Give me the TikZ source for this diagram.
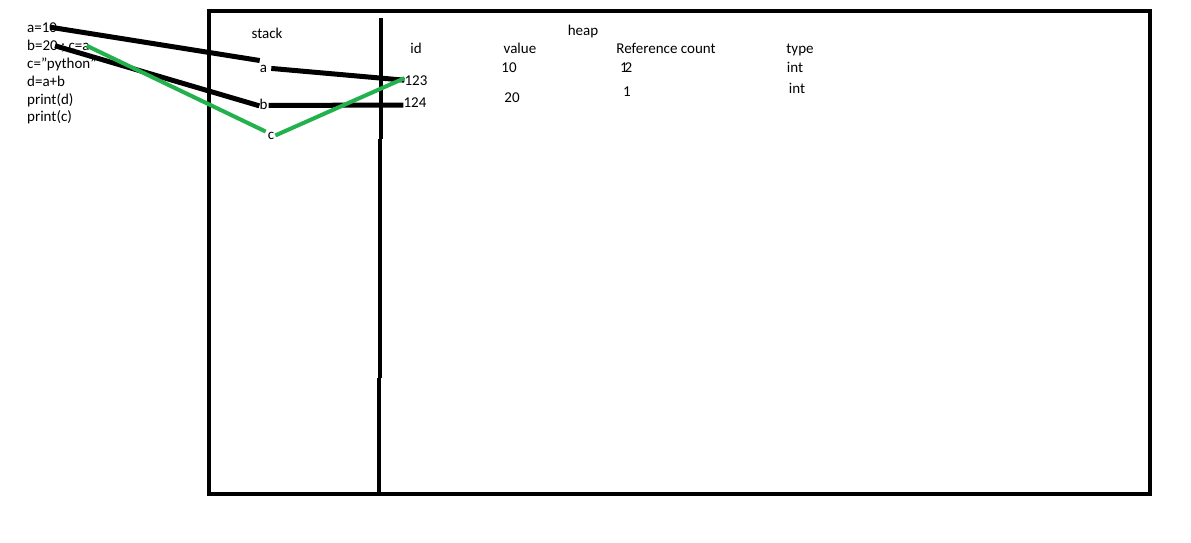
\documentclass[tikz,border=0pt]{standalone}
\usepackage{fontspec}
\setmainfont{Carlito}
\definecolor{paintgreen}{HTML}{22B14C}
\begin{document}
\begin{tikzpicture}[x=1pt,y=-1pt,
  every node/.style={inner sep=0pt, font=\fontsize{15}{18}\selectfont},
  lbl/.style={anchor=base},
  code/.style={anchor=base west},
  ref/.style={line width=5pt, black},
  gref/.style={line width=4pt, paintgreen},
  frame/.style={line width=4.5pt, black}]
\useasboundingbox (0,0) rectangle (1191,542);

% Code
\node[code] (ca) at (27,32) {a=10};
\node[code] (cb) at (27,50) {b=20 ; c=a};
\node[code] (cc) at (27,68) {c="python"};
\node[code] (cd) at (27,86) {d=a+b};
\node[code] (cpd) at (27,104) {print(d)};
\node[code] (cpc) at (27,121) {print(c)};

% Memory frame
\draw[frame] (209,11) rectangle (1150,494);
\draw[frame] (381,18) -- (381,139);
\draw[frame] (380,139) -- (380,378);
\draw[frame] (379,378) -- (379,496);

% Headings
\node[lbl] (stack) at (267,38) {stack};
\node[lbl] (heap) at (583,35) {heap};
\node[lbl] (hid) at (416,53) {id};
\node[lbl] (hval) at (520,53) {value};
\node[lbl] (hrc) at (666,53) {Reference count};
\node[lbl] (htype) at (800,53) {type};

% Stack
\node[lbl] (sa) at (263.5,72) {a};
\node[lbl] (sb) at (263.5,109) {b};
\node[lbl] (sc) at (271,139) {c};

% Heap
\node[lbl] (id123) at (416,85) {123};
\node[lbl] (id124) at (415,107) {124};
\node[lbl] (v10) at (509,72) {10};
\node[lbl] (v20) at (512,102) {20};
\node[lbl] (rc1) at (624,72) {1};
\node[lbl] (rc2) at (628.5,72) {2};
\node[lbl] (rc3) at (627,96) {1};
\node[lbl] (t1) at (795,72) {int};
\node[lbl] (t2) at (797,93) {int};

% References
\draw[ref] ([xshift=-7pt]ca.east) -- ([yshift=4pt]sa.north west);
\draw[ref] ([xshift=28pt]cb.west) -- ([yshift=-2pt]sb.west);
\draw[ref] ([xshift=4pt]sa.east) -- (id123.west);
\draw[ref] ([xshift=1pt,yshift=-1.5pt]sb.east) -- ([yshift=-3pt]id124.west);
\draw[gref] ([xshift=-3pt]cb.east) -- ([xshift=-2pt]sc.north west);
\draw[gref] ([xshift=1pt]sc.east) -- ([yshift=2pt]id123.west);
\end{tikzpicture}
\end{document}
